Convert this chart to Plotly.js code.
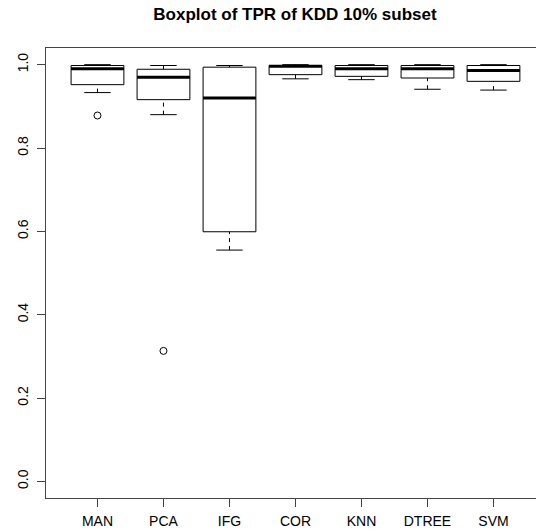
<!DOCTYPE html>
<html>
<head>
<meta charset="utf-8">
<script src="https://cdn.plot.ly/plotly-3.0.1.min.js"></script>
<style>html,body{margin:0;padding:0;background:#fff;}#chart{width:536px;height:532px;}</style>
</head>
<body>
<div id="chart"></div>
<script>
const categories = ['MAN', 'PCA', 'IFG', 'COR', 'KNN', 'DTREE', 'SVM'];
const lowerWhisker = [0.933, 0.880, 0.555, 0.966, 0.964, 0.941, 0.939];
const q1 = [0.952, 0.916, 0.599, 0.976, 0.972, 0.968, 0.960];
const median = [0.990, 0.970, 0.920, 0.996, 0.990, 0.990, 0.986];
const q3 = [0.998, 0.989, 0.994, 0.998, 0.998, 0.998, 0.998];
const upperWhisker = [1.000, 0.998, 0.998, 1.000, 1.000, 1.000, 1.000];
const outlierGroup = ['MAN', 'PCA'];
const outlierValue = [0.878, 0.313];
const yTicks = [0, 0.2, 0.4, 0.6, 0.8, 1.0];

const pos = categories.map((c, i) => i + 1);
const halfBox = 0.4, halfCap = 0.2;

const wx = [], wy = [], cx = [], cy = [], bx = [], by = [], mx = [], my = [];
pos.forEach((p, i) => {
  wx.push(p, p, null, p, p, null);
  wy.push(lowerWhisker[i], q1[i], null, q3[i], upperWhisker[i], null);
  cx.push(p - halfCap, p + halfCap, null, p - halfCap, p + halfCap, null);
  cy.push(lowerWhisker[i], lowerWhisker[i], null, upperWhisker[i], upperWhisker[i], null);
  bx.push(p - halfBox, p + halfBox, p + halfBox, p - halfBox, p - halfBox, null);
  by.push(q1[i], q1[i], q3[i], q3[i], q1[i], null);
  mx.push(p - halfBox, p + halfBox, null);
  my.push(median[i], median[i], null);
});

const traces = [
  {x: wx, y: wy, type: 'scatter', mode: 'lines', line: {color: '#000', width: 1, dash: '4px,4px'}, hoverinfo: 'skip', connectgaps: false},
  {x: cx, y: cy, type: 'scatter', mode: 'lines', line: {color: '#000', width: 1}, hoverinfo: 'skip', connectgaps: false},
  {x: bx, y: by, type: 'scatter', mode: 'lines', line: {color: '#000', width: 1}, hoverinfo: 'skip', connectgaps: false},
  {x: mx, y: my, type: 'scatter', mode: 'lines', line: {color: '#000', width: 3}, hoverinfo: 'skip', connectgaps: false},
  {x: outlierGroup.map(g => categories.indexOf(g) + 1), y: outlierValue, type: 'scatter', mode: 'markers',
   marker: {symbol: 'circle-open', size: 7, color: '#000', line: {width: 1}}, hoverinfo: 'skip'}
];

const layout = {
  width: 536, height: 532,
  margin: {l: 46, r: 0, t: 48, b: 34, pad: 0},
  paper_bgcolor: '#fff', plot_bgcolor: '#fff',
  showlegend: false,
  font: {family: 'Liberation Sans, Arial, sans-serif', size: 14, color: '#000'},
  title: {text: 'Boxplot of TPR of KDD 10% subset', font: {size: 17, weight: 'bold', family: 'Liberation Sans, Arial, sans-serif'},
          xref: 'container', x: 295 / 536, xanchor: 'center', yref: 'container', y: 1 - 14 / 532, yanchor: 'middle'},
  xaxis: {range: [0.22, 0.22 + 490 / 66], tickvals: pos, ticktext: categories, showgrid: false, zeroline: false,
          showline: true, linecolor: '#444', linewidth: 1, mirror: true, ticks: 'outside', ticklen: 8, tickcolor: '#444',
          ticklabelstandoff: 2},
  yaxis: {range: [-0.04, 1.04], tickvals: yTicks, ticktext: yTicks.map(v => v.toFixed(1)), tickangle: -90, showgrid: false, zeroline: false,
          showline: true, linecolor: '#444', linewidth: 1, ticks: 'outside', ticklen: 8, tickcolor: '#444',
          ticklabelstandoff: 3}
};

Plotly.newPlot('chart', traces, layout, {staticPlot: true, displayModeBar: false});
</script>
</body>
</html>
